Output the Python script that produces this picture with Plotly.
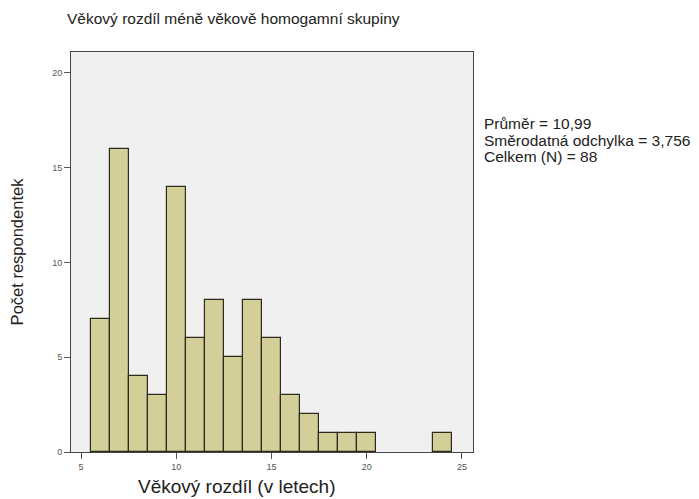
import plotly.graph_objects as go

# bin centres (years) and counts
vek_rozdil = [6, 7, 8, 9, 10, 11, 12, 13, 14, 15, 16, 17, 18, 19, 20, 21, 22, 23, 24]
pocet = [7, 16, 4, 3, 14, 6, 8, 5, 8, 6, 3, 2, 1, 1, 1, 0, 0, 0, 1]

x_ticks = [5, 10, 15, 20, 25]
y_ticks = [0, 5, 10, 15, 20]

stats_lines = ["Průměr = 10,99", "Směrodatná odchylka = 3,756", "Celkem (N) = 88"]

fig = go.Figure()
fig.add_trace(go.Bar(
    x=vek_rozdil, y=pocet, width=1,
    # empty bins get no outline
    marker=dict(color="#d4cf98",
                line=dict(color="#2b2b1c", width=[1.2 if c > 0 else 0 for c in pocet])),
    showlegend=False,
))

axis_common = dict(
    showline=True, linecolor="#444444", linewidth=1, mirror=True,
    showgrid=False, zeroline=False, ticks="outside", ticklen=6,
    tickcolor="#555555", tickfont=dict(size=9, color="#555555"),
    automargin=False,
)

# page body has an 8px margin, so positions are shifted up/left by 8
fig.update_layout(
    width=699, height=499,
    margin=dict(l=63, r=234, t=44, b=55),
    paper_bgcolor="white", plot_bgcolor="#f0f0f0",
    font=dict(family="Liberation Sans, Arial, sans-serif", color="#222222"),
    title=dict(text="Věkový rozdíl méně věkově homogamní skupiny",
               xref="container", x=59 / 699, xanchor="left",
               yref="container", y=1 - 11 / 499, yanchor="middle",
               font=dict(size=15.5, color="#222222")),
    bargap=0,
    xaxis=dict(axis_common, range=[4.47, 25.58], tickvals=x_ticks),
    yaxis=dict(axis_common, range=[0, 21.1], tickvals=y_ticks,
               title=dict(text="Počet respondentek", font=dict(size=16.5), standoff=24)),
)

fig.add_annotation(
    text="Věkový rozdíl (v letech)", xref="paper", yref="paper",
    x=(236 - 71) / 402, y=-35 / 400, xanchor="center", yanchor="middle",
    showarrow=False, font=dict(size=19, color="#222222"),
)

for i, line in enumerate(stats_lines):
    fig.add_annotation(
        text=line, xref="paper", yref="paper",
        x=1 + 9 / 402, y=1 - (72 + 16 * i) / 400,
        xanchor="left", yanchor="middle", showarrow=False,
        font=dict(size=15.5, color="#222222"),
    )

fig.write_html("out.html")
